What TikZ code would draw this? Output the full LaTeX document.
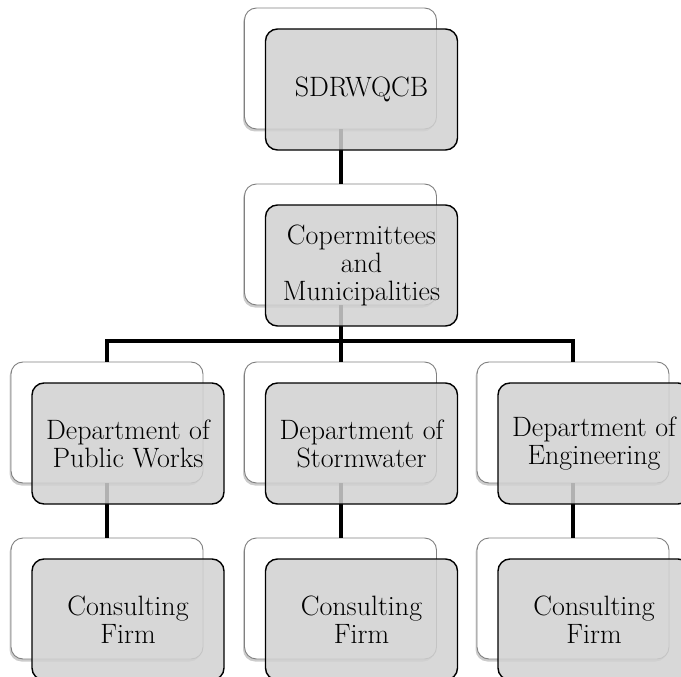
\documentclass[tikz,border=0pt]{standalone}
\usetikzlibrary{shadows}

\tikzset{
  backbox/.style={draw=black!50, line width=0.9pt, fill=white, rounded corners=12pt,
    minimum width=192pt, minimum height=121pt,
    drop shadow={shadow xshift=-1.5pt, shadow yshift=-2.5pt, opacity=0.4}},
  frontbox/.style={draw=black, line width=1.4pt, fill=black!18, fill opacity=0.85,
    text opacity=1, rounded corners=12pt, minimum width=192pt, minimum height=121pt,
    align=center, inner sep=2pt, font=\fontsize{28}{28}\selectfont},
  link/.style={line width=4pt}
}

\begin{document}
\begin{tikzpicture}[x=1pt,y=-1pt]
\useasboundingbox (0,0) rectangle (681,677);
\clip (0,0) rectangle (681,677);

% back boxes
\node[backbox] (top) at (340.5,68.5) {};
\node[backbox] (cop) at (340.5,244.5) {};
\foreach \n/\x in {pw/107, sw/340.5, en/573}
{
  \node[backbox] (dep\n) at (\x,422.5) {};
  \node[backbox] (con\n) at (\x,598.5) {};
}

% connectors
\coordinate (bus) at (340.5,341);
\draw[link] (top.south) -- (cop.north);
\draw[link] (cop.south) -- (bus);
\foreach \n in {pw,sw,en}
{
  \draw[link] (bus) -| (dep\n.north);
  \draw[link] (dep\n.south) -- (con\n.north);
}

% front boxes
\node[frontbox] (topf) at ([shift={(21,21)}]top.center) {SDRWQCB};
\node[frontbox] (copf) at ([shift={(21,21)}]cop.center) {Copermittees\\and\\Municipalities};
\node[frontbox] (deppwf) at ([shift={(21,21)}]deppw.center) {Department of\\Public Works};
\node[frontbox] (depswf) at ([shift={(21,21)}]depsw.center) {Department of\\Stormwater};
\node[frontbox] (depenf) at ([shift={(21,21)}]depen.center) {Department of\\Engineering};
\foreach \n in {pw,sw,en}
  \node[frontbox] (con\n f) at ([shift={(21,21)}]con\n.center) {Consulting\\Firm};
\end{tikzpicture}
\end{document}
